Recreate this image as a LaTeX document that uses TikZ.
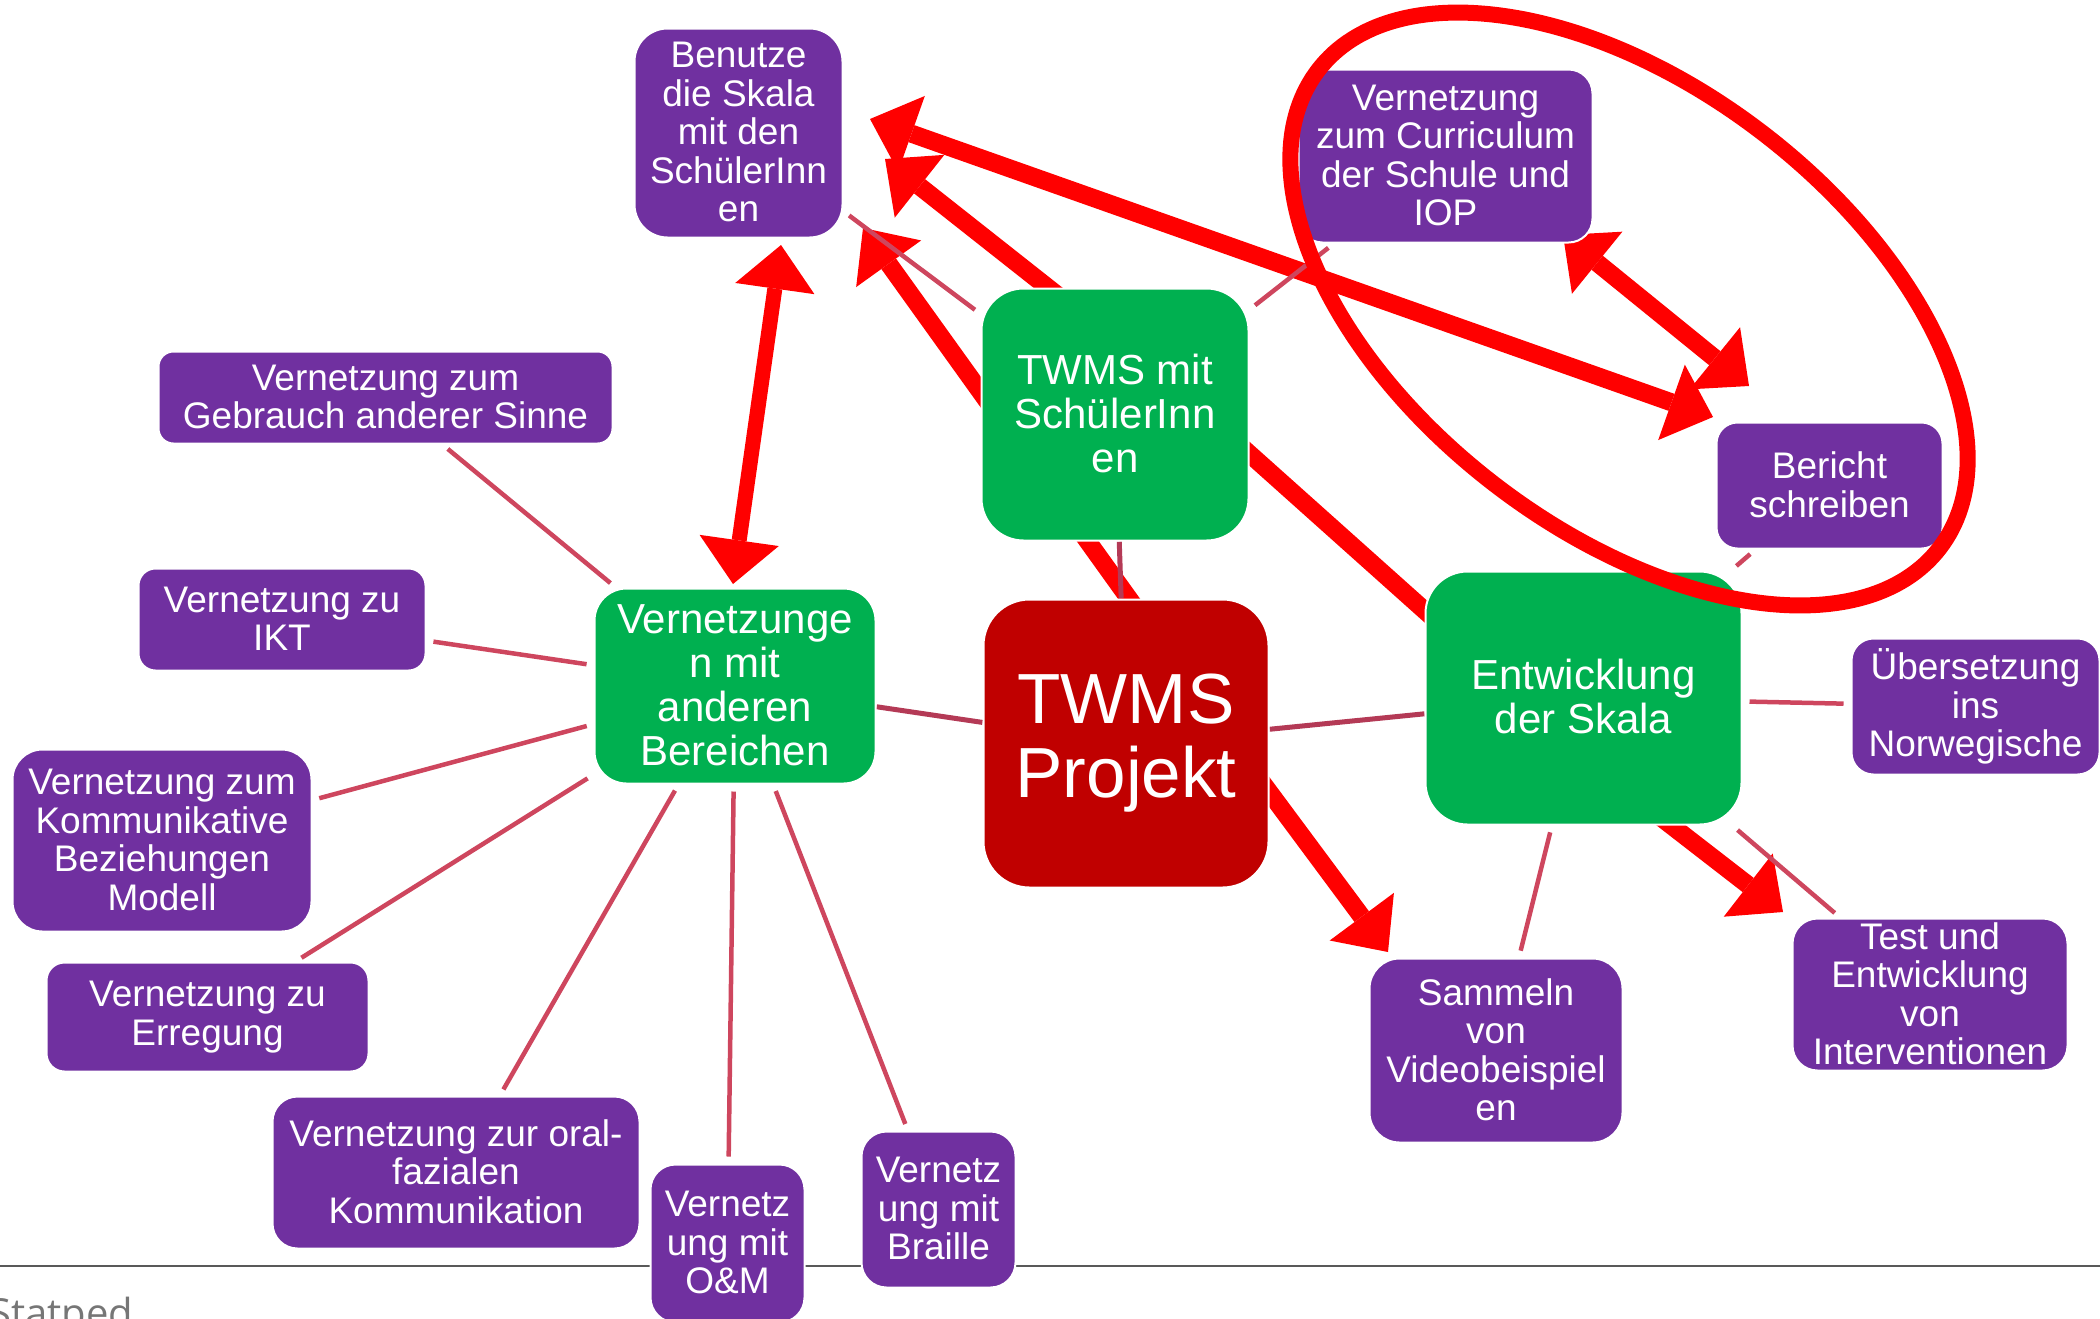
\documentclass[tikz,border=0pt]{standalone}
\usepackage{fontspec}
\setmainfont{Liberation Sans}
\newfontfamily\footfont{Open Sans}
\usetikzlibrary{arrows.meta}
\definecolor{bxpurple}{RGB}{112,48,160}
\definecolor{bxgreen}{RGB}{0,176,80}
\definecolor{bxdark}{RGB}{192,0,0}
\definecolor{arred}{RGB}{255,0,0}
\definecolor{lnpink}{RGB}{206,70,94}
\definecolor{lndark}{RGB}{180,58,86}
\definecolor{footgray}{RGB}{89,89,89}
\definecolor{foottext}{RGB}{118,118,118}
\newcommand{\lnstrut}{\rule[\dimexpr-0.16em+4pt\relax]{0pt}{1.04em}}
\pgfdeclarelayer{arrowlayer}
\pgfdeclarelayer{linelayer}
\pgfdeclarelayer{toplayer}
\pgfsetlayers{arrowlayer,linelayer,main,toplayer}
\begin{document}
\begin{tikzpicture}[x=1pt,y=-1pt,
  box/.style={draw=white, line width=2pt, text=white, align=center, inner sep=0pt,
    execute at begin node=\lnstrut, execute at end node=\lnstrut},
  pbox/.style={box, fill=bxpurple, font=\fontsize{37}{38.5}\selectfont},
  gbox/.style={box, fill=bxgreen, font=\fontsize{42}{44}\selectfont},
  rbox/.style={box, fill=bxdark, font=\fontsize{71}{74}\selectfont},
  thinln/.style={draw=lnpink, line width=4.5pt, shorten <=7pt, shorten >=7pt},
  darkln/.style={draw=lndark, line width=5pt},
  redln/.style={draw=arred, line width=18pt},
  onehead/.style={redln, -{Triangle[length=44pt,width=80pt,line width=0pt]}},
  twohead/.style={redln, {Triangle[length=44pt,width=80pt,line width=0pt]}-{Triangle[length=44pt,width=80pt,line width=0pt]}}
]
\useasboundingbox (0,0) rectangle (2100,1318);

% boxes
\node[pbox, minimum width=208pt, minimum height=209pt, rounded corners=33pt] (ben) at (738.5,133) {Benutze\\die Skala\\mit den\\SchülerInn\\en};
\node[pbox, minimum width=294pt, minimum height=173pt, rounded corners=24pt] (cur) at (1445.5,156) {Vernetzung\\zum Curriculum\\der Schule und\\IOP};
\node[pbox, minimum width=226pt, minimum height=126pt, rounded corners=21pt] (ber) at (1829.5,485.5) {Bericht\\schreiben};
\node[gbox, minimum width=267pt, minimum height=252pt, rounded corners=42pt] (twm) at (1115,414.5) {TWMS mit\\SchülerInn\\en};
\node[rbox, minimum width=285pt, minimum height=288pt, rounded corners=46pt] (proj) at (1126,743.5) {TWMS\\Projekt};
\node[gbox, minimum width=316pt, minimum height=253pt, rounded corners=42pt] (ent) at (1583.5,698) {Entwicklung\\der Skala};
\node[pbox, minimum width=248pt, minimum height=136pt, rounded corners=22pt] (ueb) at (1975.5,706.5) {Übersetzung\\ins\\Norwegische};
\node[pbox, minimum width=275pt, minimum height=152pt, rounded corners=25pt] (test) at (1930,994.5) {Test und\\Entwicklung\\von\\Interventionen};
\node[pbox, minimum width=253pt, minimum height=184pt, rounded corners=30pt] (samm) at (1496,1050.5) {Sammeln\\von\\Videobeispiel\\en};
\node[gbox, minimum width=281pt, minimum height=195pt, rounded corners=32pt] (vern) at (735,686) {Vernetzunge\\n mit\\anderen\\Bereichen};
\node[pbox, minimum width=454pt, minimum height=92pt, rounded corners=15pt] (geb) at (385.5,397.5) {Vernetzung zum\\Gebrauch anderer Sinne};
\node[pbox, minimum width=287pt, minimum height=102pt, rounded corners=17pt] (ikt) at (282,619.5) {Vernetzung zu\\IKT};
\node[pbox, minimum width=299pt, minimum height=182pt, rounded corners=30pt] (kom) at (162,840.5) {Vernetzung zum\\Kommunikative\\Beziehungen\\Modell};
\node[pbox, minimum width=322pt, minimum height=109pt, rounded corners=18pt] (err) at (207.5,1017) {Vernetzung zu\\Erregung};
\node[pbox, minimum width=367pt, minimum height=152pt, rounded corners=25pt] (oral) at (456,1172.5) {Vernetzung zur oral-\\fazialen\\Kommunikation};
\node[pbox, minimum width=154pt, minimum height=158pt, rounded corners=25pt] (om) at (727.5,1243.5) {Vernetz\\ung mit\\O\&M};
\node[pbox, minimum width=154pt, minimum height=156pt, rounded corners=25pt] (brl) at (938.5,1209.5) {Vernetz\\ung mit\\Braille};

\node[anchor=base west, inner sep=0pt, text=foottext, font=\footfont\fontsize{40}{48}\selectfont] (statped) at (-11,1327.5) {Statped};

% arrow end points
\coordinate (aBen) at (870,119);  \coordinate (aBer) at (1713,417);
\coordinate (bS) at (1075,309);   \coordinate (bT) at (885,159);
\coordinate (cS) at (1150,628);   \coordinate (cT) at (863,228);
\coordinate (dT) at (781,245);    \coordinate (dB) at (733,584);
\coordinate (eS) at (1234,440);   \coordinate (eE) at (1442,626);
\coordinate (fS) at (1244,758);   \coordinate (fT) at (1388,952);
\coordinate (gS) at (1641,802);   \coordinate (gT) at (1783,912);
\coordinate (hT) at (1563,235);   \coordinate (hB) at (1749,386);
\coordinate (footL) at (0,1266);  \coordinate (footR) at (2100,1266);

\begin{pgfonlayer}{arrowlayer}
  \draw[footgray, line width=2.5pt] (footL) -- (footR);
  \draw[twohead] (aBen) -- (aBer);
  \draw[onehead] (bS) -- (bT);
  \draw[onehead] (cS) -- (cT);
  \draw[twohead, line width=15pt] (dT) -- (dB);
  \draw[redln] (eS) -- (eE);
  \draw[onehead] (fS) -- (fT);
  \draw[onehead] (gS) -- (gT);
  \draw[twohead] (hT) -- (hB);
\end{pgfonlayer}

\begin{pgfonlayer}{linelayer}
  \draw[thinln] (ben) -- (twm);
  \draw[thinln] (twm) -- (cur);
  \draw[darkln] (twm) -- (proj);
  \draw[darkln] (proj) -- (vern);
  \draw[darkln] (proj) -- (ent);
  \draw[thinln] (ent) -- (ber);
  \draw[thinln] (ent) -- (ueb);
  \draw[thinln] (ent) -- (test);
  \draw[thinln] (ent) -- (samm);
  \draw[thinln] (vern) -- (geb);
  \draw[thinln] (vern) -- (ikt);
  \draw[thinln] (vern) -- (kom);
  \draw[thinln] (vern) -- (err);
  \draw[thinln] (vern) -- (oral);
  \draw[thinln] (vern) -- (om);
  \draw[thinln] (vern) -- (brl);
\end{pgfonlayer}

\begin{pgfonlayer}{toplayer}
  \draw[arred, line width=16pt, rotate around={-37.6:(1629,309)}] (1629,309) ellipse [x radius=392pt, y radius=221pt];
\end{pgfonlayer}
\end{tikzpicture}
\end{document}
